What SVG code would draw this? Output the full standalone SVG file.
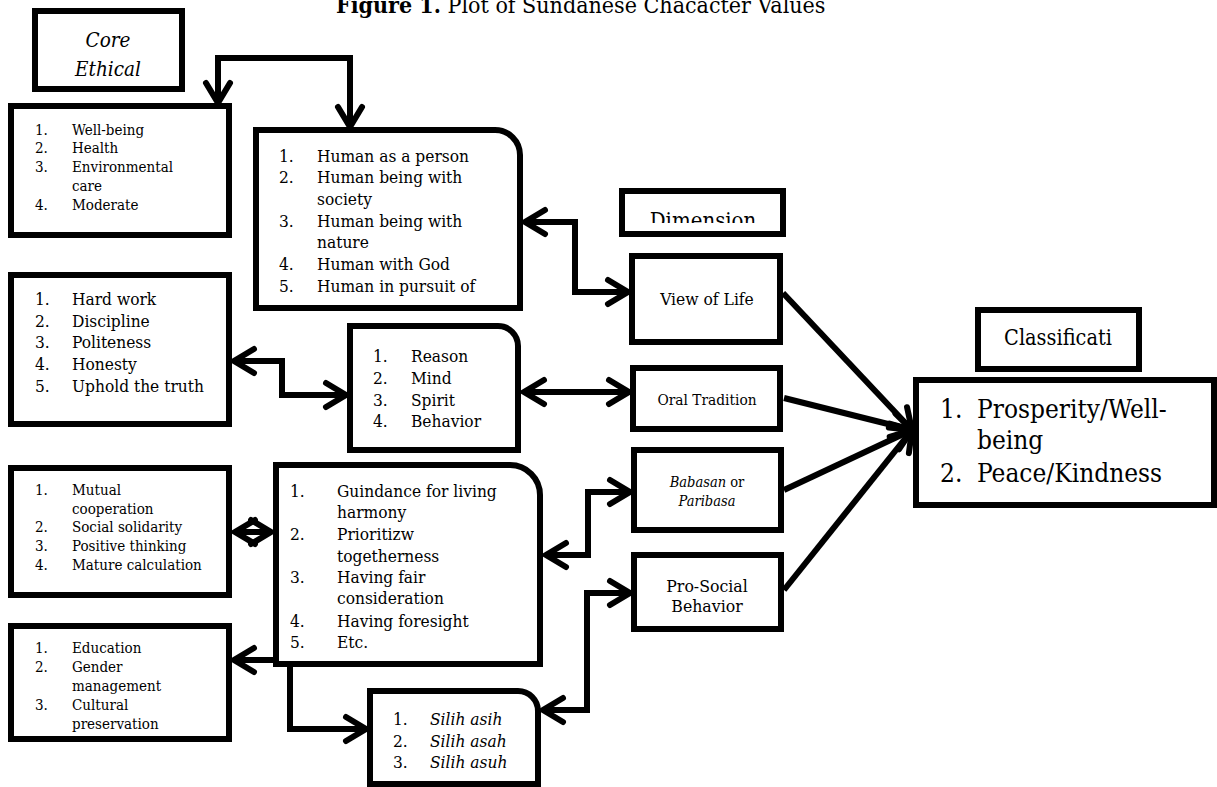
<svg xmlns="http://www.w3.org/2000/svg" width="1217" height="787" viewBox="0 0 1217 787">
<style>
text{font-family:"DejaVu Serif Condensed","DejaVu Serif","Liberation Serif",serif;font-stretch:condensed;fill:#000}
.box{fill:#fff;stroke:#000;stroke-width:6}
.s15{font-size:15px}
.s17{font-size:17.2px}
.it{font-style:italic}
.mid{text-anchor:middle}
.con path{fill:none;stroke:#000;stroke-width:6;stroke-linejoin:miter}
</style>
<defs>
<marker id="ah" markerUnits="userSpaceOnUse" markerWidth="40" markerHeight="40" refX="0" refY="0" orient="auto-start-reverse" style="overflow:visible">
<path d="M-20,-12 L0,0 L-20,12" fill="none" stroke="#000" stroke-width="6" stroke-linecap="round" stroke-linejoin="miter"/>
</marker>
<clipPath id="dimclip"><rect x="625" y="194" width="155" height="29"/></clipPath>
</defs>
<rect width="1217" height="787" fill="#fff"/>
<text x="336" y="13" font-size="23"><tspan font-weight="bold">Figure 1.</tspan> Plot of Sundanese Chacacter Values</text>

<g class="con">
<path d="M218,103 V58 H350 V127" marker-start="url(#ah)" marker-end="url(#ah)"/>
<path d="M525,222 H575 V292 H628" marker-start="url(#ah)" marker-end="url(#ah)"/>
<path d="M234,361 H282 V395 H346" marker-start="url(#ah)" marker-end="url(#ah)"/>
<path d="M524,392 H629" marker-start="url(#ah)" marker-end="url(#ah)"/>
<path d="M235,532 H271" marker-start="url(#ah)" marker-end="url(#ah)"/>
<path d="M546,555 H588 V492 H630" marker-start="url(#ah)" marker-end="url(#ah)"/>
<path d="M543,710 H587 V593 H630" marker-start="url(#ah)" marker-end="url(#ah)"/>
<path d="M234,660 H290 V729 H366" marker-start="url(#ah)" marker-end="url(#ah)"/>
<path d="M783,293 L912,430" marker-end="url(#ah)"/>
<path d="M784,398 L912,430" marker-end="url(#ah)"/>
<path d="M784,490 L912,430" marker-end="url(#ah)"/>
<path d="M784,590 L912,430" marker-end="url(#ah)"/>
</g>

<g id="core-ethical">
<rect class="box" x="35" y="11" width="147" height="78"/>
<text class="mid it" x="108" y="47" font-size="20.5">Core</text>
<text class="mid it" x="108" y="76" font-size="20.5">Ethical</text>
</g>

<g id="box-wellbeing">
<rect class="box" x="11" y="106" width="218" height="129"/>
<text class="s15" x="35" y="135">1.</text><text class="s15" x="72" y="135">Well-being</text>
<text class="s15" x="35" y="153">2.</text><text class="s15" x="72" y="153">Health</text>
<text class="s15" x="35" y="172">3.</text><text class="s15" x="72" y="172">Environmental</text>
<text class="s15" x="72" y="191">care</text>
<text class="s15" x="35" y="210">4.</text><text class="s15" x="72" y="210">Moderate</text>
</g>

<g id="box-human">
<path class="box" d="M256,130 H495 A25,25 0 0 1 520,155 V308 H256 Z"/>
<text class="s17" x="279" y="162">1.</text><text class="s17" x="317" y="162">Human as a person</text>
<text class="s17" x="279" y="183">2.</text><text class="s17" x="317" y="183">Human being with</text>
<text class="s17" x="317" y="205">society</text>
<text class="s17" x="279" y="227">3.</text><text class="s17" x="317" y="227">Human being with</text>
<text class="s17" x="317" y="248">nature</text>
<text class="s17" x="279" y="270">4.</text><text class="s17" x="317" y="270">Human with God</text>
<text class="s17" x="279" y="292">5.</text><text class="s17" x="317" y="292">Human in pursuit of</text>
</g>

<g id="box-hardwork">
<rect class="box" x="11" y="275" width="218" height="149"/>
<text class="s17" x="35" y="305">1.</text><text class="s17" x="72" y="305">Hard work</text>
<text class="s17" x="35" y="327">2.</text><text class="s17" x="72" y="327">Discipline</text>
<text class="s17" x="35" y="348">3.</text><text class="s17" x="72" y="348">Politeness</text>
<text class="s17" x="35" y="370">4.</text><text class="s17" x="72" y="370">Honesty</text>
<text class="s17" x="35" y="392">5.</text><text class="s17" x="72" y="392">Uphold the truth</text>
</g>

<g id="box-reason">
<path class="box" d="M350,326 H498 A20,20 0 0 1 518,346 V450 H350 Z"/>
<text class="s17" x="373" y="362">1.</text><text class="s17" x="411" y="362">Reason</text>
<text class="s17" x="373" y="384">2.</text><text class="s17" x="411" y="384">Mind</text>
<text class="s17" x="373" y="406">3.</text><text class="s17" x="411" y="406">Spirit</text>
<text class="s17" x="373" y="427">4.</text><text class="s17" x="411" y="427">Behavior</text>
</g>

<g id="box-mutual">
<rect class="box" x="11" y="468" width="218" height="127"/>
<text class="s15" x="35" y="495">1.</text><text class="s15" x="72" y="495">Mutual</text>
<text class="s15" x="72" y="514">cooperation</text>
<text class="s15" x="35" y="532">2.</text><text class="s15" x="72" y="532">Social solidarity</text>
<text class="s15" x="35" y="551">3.</text><text class="s15" x="72" y="551">Positive thinking</text>
<text class="s15" x="35" y="570">4.</text><text class="s15" x="72" y="570">Mature calculation</text>
</g>

<g id="box-guidance">
<path class="box" d="M276,465 H510 A30,30 0 0 1 540,495 V664 H276 Z"/>
<text class="s17" x="290" y="497">1.</text><text class="s17" x="337" y="497">Guindance for living</text>
<text class="s17" x="337" y="518">harmony</text>
<text class="s17" x="290" y="540">2.</text><text class="s17" x="337" y="540">Prioritizw</text>
<text class="s17" x="337" y="562">togetherness</text>
<text class="s17" x="290" y="583">3.</text><text class="s17" x="337" y="583">Having fair</text>
<text class="s17" x="337" y="604">consideration</text>
<text class="s17" x="290" y="627">4.</text><text class="s17" x="337" y="627">Having foresight</text>
<text class="s17" x="290" y="648">5.</text><text class="s17" x="337" y="648">Etc.</text>
</g>

<g id="box-education">
<rect class="box" x="11" y="626" width="218" height="113"/>
<text class="s15" x="35" y="653">1.</text><text class="s15" x="72" y="653">Education</text>
<text class="s15" x="35" y="672">2.</text><text class="s15" x="72" y="672">Gender</text>
<text class="s15" x="72" y="691">management</text>
<text class="s15" x="35" y="710">3.</text><text class="s15" x="72" y="710">Cultural</text>
<text class="s15" x="72" y="729">preservation</text>
</g>

<g id="box-silih">
<path class="box" d="M370,691 H518 A20,20 0 0 1 538,711 V784 H370 Z"/>
<text class="s17" x="393" y="725">1.</text><text class="s17 it" x="430" y="725">Silih asih</text>
<text class="s17" x="393" y="747">2.</text><text class="s17 it" x="430" y="747">Silih asah</text>
<text class="s17" x="393" y="768">3.</text><text class="s17 it" x="430" y="768">Silih asuh</text>
</g>

<g id="dimension">
<rect class="box" x="622" y="191" width="161" height="43"/>
<text class="mid" x="703" y="228" font-size="22" clip-path="url(#dimclip)">Dimension</text>
</g>

<g id="view-of-life">
<rect class="box" x="632" y="256" width="148" height="86"/>
<text class="mid" x="707" y="305" font-size="17.3">View of Life</text>
</g>

<g id="oral-tradition">
<rect class="box" x="633" y="368" width="147" height="61"/>
<text class="mid" x="707" y="405" font-size="15.3">Oral Tradition</text>
</g>

<g id="babasan">
<rect class="box" x="634" y="450" width="147" height="80"/>
<text class="mid" x="707" y="487" font-size="14.5"><tspan font-style="italic">Babasan</tspan> or</text>
<text class="mid it" x="707" y="506" font-size="14.5">Paribasa</text>
</g>

<g id="pro-social">
<rect class="box" x="634" y="555" width="147" height="74"/>
<text class="mid" x="707" y="592" font-size="17.5">Pro-Social</text>
<text class="mid" x="707" y="612" font-size="17.5">Behavior</text>
</g>

<g id="classification">
<rect class="box" x="978" y="310" width="161" height="59"/>
<text class="mid" x="1058" y="345" font-size="21.5">Classificati</text>
</g>

<g id="result">
<rect class="box" x="916" y="380" width="298" height="125"/>
<text x="940" y="418" font-size="26">1.</text><text x="977" y="418" font-size="26">Prosperity/Well-</text>
<text x="977" y="449" font-size="26">being</text>
<text x="940" y="482" font-size="26">2.</text><text x="977" y="482" font-size="26">Peace/Kindness</text>
</g>
</svg>
